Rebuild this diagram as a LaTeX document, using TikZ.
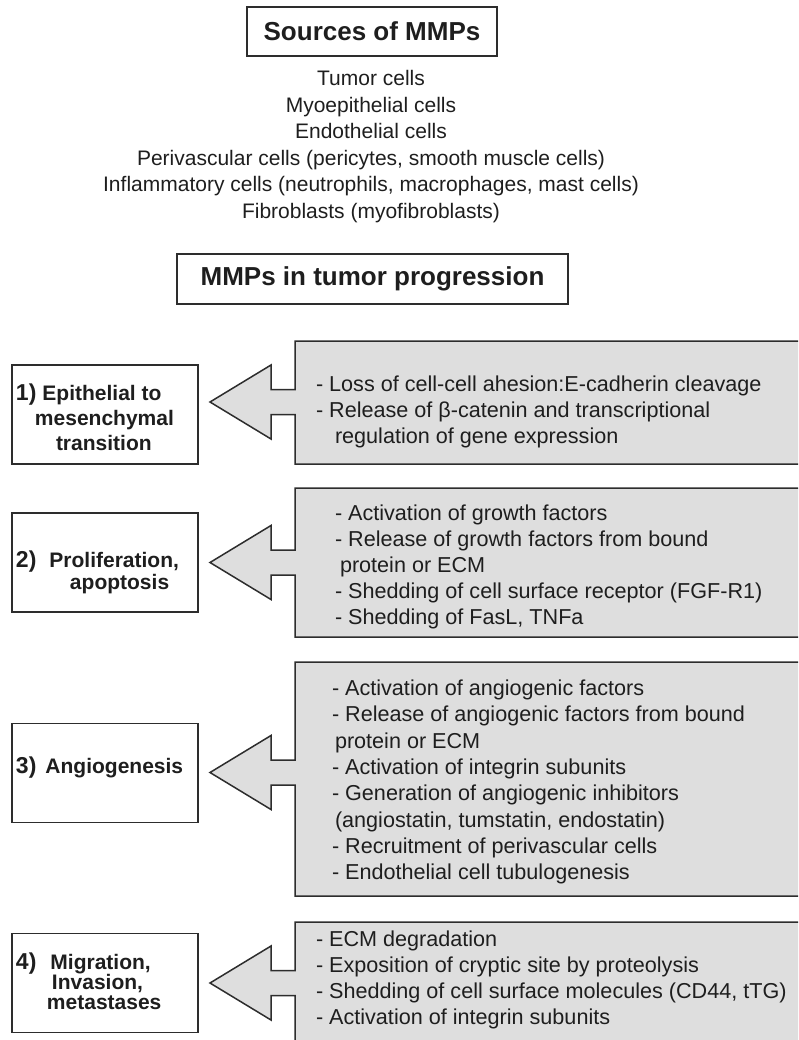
\documentclass[tikz,border=0pt]{standalone}
\usepackage{fontspec}
\setmainfont{Liberation Sans}
\definecolor{panelgray}{RGB}{222,222,222}
\definecolor{ink}{RGB}{30,30,30}
\definecolor{edge}{RGB}{45,45,45}
\newcommand\numfont{\fontsize{23}{25}\selectfont\bfseries}
\newcommand\panelshape[4]{%
  \coordinate (#4) at (210,#3);
  \filldraw[panel] (295,#1) -- (812,#1) -- (812,#2) -- (295,#2) -- (295,#3+12.5) -- (271,#3+12.5) -- (271,#3+37) -- (#4) -- (271,#3-37) -- (271,#3-12.5) -- (295,#3-12.5) -- cycle;}
\begin{document}
\begin{tikzpicture}[x=1pt,y=-1pt,
  every node/.style={inner sep=0pt, outer sep=0pt, text=ink},
  titlebox/.style={draw=edge, line width=1.5pt, font=\fontsize{26}{30}\selectfont\bfseries},
  srcs/.style={align=center, anchor=base, font=\fontsize{21}{26.6}\selectfont},
  labelbox/.style={draw=edge, line width=1.5pt, minimum width=186pt, minimum height=99pt},
  labeltext/.style={align=left, anchor=base west, font=\fontsize{21}{25}\selectfont\bfseries},
  paneltext/.style={align=left, anchor=base west, font=\fontsize{21.6}{26}\selectfont},
  panel/.style={draw=edge, fill=panelgray, line width=1.5pt},
]
\useasboundingbox (0,0) rectangle (798,1040);
\clip (0,0) rectangle (798,1040);

% titles
\node[titlebox, minimum width=250pt, minimum height=49pt] (src) at (372,31.5) {Sources of MMPs};
\node[srcs] (list) at (371,218.5) {Tumor cells\\Myoepithelial cells\\Endothelial cells\\Perivascular cells (pericytes, smooth muscle cells)\\Inflammatory cells (neutrophils, macrophages, mast cells)\\Fibroblasts (myofibroblasts)};
\node[titlebox, minimum width=391pt, minimum height=50pt] (prog) at (372.5,279) {MMPs in tumor progression};

% panels with block arrows
\panelshape{341}{464}{402}{t1}
\panelshape{488}{637}{562.5}{t2}
\panelshape{662}{896}{772.5}{t3}
\panelshape{922}{1060}{983}{t4}

% left boxes
\node[labelbox] (b1) at (105,414.5) {};
\node[labeltext] (l1) at (16,450) {{\numfont 1)}\hspace{6pt}Epithelial to\\\hspace*{19pt}mesenchymal\\\hspace*{40pt}transition};
\node[labelbox] (b2) at (105,562.5) {};
\node[labeltext] (l2) at (16,589) {{\numfont 2)}\hspace{13pt}Proliferation,\\[-3pt]\hspace*{54pt}apoptosis};
\node[labelbox] (b3) at (105,773) {};
\node[labeltext] (l3) at (16,773) {{\numfont 3)}\hspace{9pt}Angiogenesis};
\node[labelbox] (b4) at (105,983) {};
\node[labeltext] (l4) at (16,1009) {{\numfont 4)}\hspace{14pt}Migration,\\[-5pt]\hspace*{36pt}Invasion,\\[-5pt]\hspace*{31pt}metastases};

% panel texts
\node[paneltext] (p1) at (316,443) {- Loss of cell-cell ahesion:E-cadherin cleavage\\- Release of β-catenin and transcriptional\\\hspace*{19pt}regulation of gene expression};
\node[paneltext] (p2) at (335,624.5) {- Activation of growth factors\\- Release of growth factors from bound\\\hspace*{5pt}protein or ECM\\- Shedding of cell surface receptor (FGF-R1)\\- Shedding of FasL, TNFa};
\node[paneltext, font=\fontsize{21.6}{26.3}\selectfont] (p3) at (332,879.6) {- Activation of angiogenic factors\\- Release of angiogenic factors from bound\\\hspace*{3pt}protein or ECM\\- Activation of integrin subunits\\- Generation of angiogenic inhibitors\\\hspace*{3pt}(angiostatin, tumstatin, endostatin)\\- Recruitment of perivascular cells\\- Endothelial cell tubulogenesis};
\node[paneltext] (p4) at (316,1024.5) {- ECM degradation\\- Exposition of cryptic site by proteolysis\\- Shedding of cell surface molecules (CD44, tTG)\\- Activation of integrin subunits};
\end{tikzpicture}
\end{document}
